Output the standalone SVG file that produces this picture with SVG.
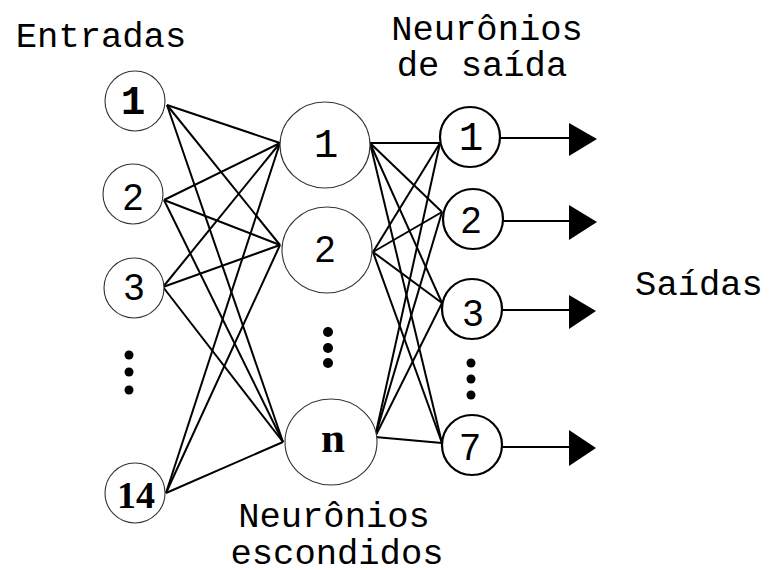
<svg xmlns="http://www.w3.org/2000/svg" width="772" height="570" viewBox="0 0 772 570">
<style>
.lbl{font-family:"Liberation Mono","Courier New",monospace;font-size:35.5px;fill:#000;text-anchor:middle}
.thin{fill:#fff;stroke:#333;stroke-width:1.1}
.thick{fill:#fff;stroke:#000;stroke-width:2.2}
.mono{font-family:"Liberation Mono",monospace;font-size:41px;text-anchor:middle}
.sans{font-family:"Liberation Sans",Arial,sans-serif;font-size:37px;text-anchor:middle}
.serb{font-family:"Liberation Serif",serif;font-weight:bold;font-size:38px;text-anchor:middle}
.conn line{stroke:#000;stroke-width:2}
.dot{fill:#000}
</style>
<rect width="772" height="570" fill="#fff"/>
<text class="lbl" x="101" y="47">Entradas</text>
<text class="lbl" x="487" y="40">Neurônios</text>
<text class="lbl" x="482" y="76">de saída</text>
<text class="lbl" x="699" y="295">Saídas</text>
<text class="lbl" x="334" y="527">Neurônios</text>
<text class="lbl" x="337" y="564">escondidos</text>
<g id="connectors" class="conn">
<line x1="167" y1="105" x2="280" y2="143"/>
<line x1="167" y1="105" x2="280" y2="245"/>
<line x1="167" y1="105" x2="283" y2="442"/>
<line x1="164" y1="200" x2="280" y2="143"/>
<line x1="164" y1="200" x2="280" y2="245"/>
<line x1="164" y1="200" x2="283" y2="442"/>
<line x1="163" y1="287" x2="280" y2="143"/>
<line x1="163" y1="287" x2="280" y2="245"/>
<line x1="163" y1="287" x2="283" y2="442"/>
<line x1="166" y1="493" x2="280" y2="143"/>
<line x1="166" y1="493" x2="280" y2="245"/>
<line x1="166" y1="493" x2="283" y2="442"/>
<line x1="370" y1="143" x2="440" y2="143"/>
<line x1="370" y1="143" x2="442" y2="212"/>
<line x1="370" y1="143" x2="442" y2="303"/>
<line x1="370" y1="143" x2="442" y2="443"/>
<line x1="373" y1="252" x2="440" y2="143"/>
<line x1="373" y1="252" x2="442" y2="212"/>
<line x1="373" y1="252" x2="442" y2="303"/>
<line x1="373" y1="252" x2="442" y2="443"/>
<line x1="375" y1="437" x2="440" y2="143"/>
<line x1="375" y1="437" x2="442" y2="212"/>
<line x1="375" y1="437" x2="442" y2="303"/>
<line x1="375" y1="437" x2="442" y2="443"/>
<line x1="500" y1="138" x2="572" y2="138"/>
<line x1="503" y1="221" x2="572" y2="221"/>
<line x1="502" y1="310" x2="572" y2="310"/>
<line x1="502" y1="447" x2="572" y2="447"/>
<polygon points="569,123 597,139 569,156" fill="#000"/>
<polygon points="569,205 597,222 569,240" fill="#000"/>
<polygon points="569,295 596,311 569,329" fill="#000"/>
<polygon points="569,430 596,448 569,466" fill="#000"/>
</g>
<g id="in1"><circle class="thin" cx="135" cy="101" r="30"/><text class="mono" x="133" y="114" font-weight="bold">1</text></g>
<g id="in2"><circle class="thin" cx="133" cy="194" r="30"/><text class="sans" x="133" y="210">2</text></g>
<g id="in3"><circle class="thin" cx="134" cy="288" r="30"/><text class="sans" x="134" y="300">3</text></g>
<g id="in-dots"><circle class="dot" cx="129" cy="355" r="4.5"/><circle class="dot" cx="129" cy="372" r="4.5"/><circle class="dot" cx="129" cy="390" r="4.5"/></g>
<g id="in14"><circle class="thin" cx="135" cy="493" r="30"/><text class="serb" x="136" y="508">14</text></g>
<g id="h1"><ellipse class="thin" cx="325" cy="145" rx="45" ry="43"/><text class="mono" x="326" y="157">1</text></g>
<g id="h2"><ellipse class="thin" cx="327" cy="250" rx="45" ry="43"/><text class="sans" x="325" y="262">2</text></g>
<g id="h-dots"><circle class="dot" cx="328" cy="332" r="5"/><circle class="dot" cx="328" cy="348" r="5"/><circle class="dot" cx="328" cy="363" r="5"/></g>
<g id="hn"><ellipse class="thin" cx="331" cy="442" rx="46" ry="43"/><text class="serb" x="333" y="452" style="font-size:43px">n</text></g>
<g id="o1"><circle class="thick" cx="470" cy="137" r="30"/><text class="mono" x="471" y="150">1</text></g>
<g id="o2"><circle class="thick" cx="473" cy="219" r="30"/><text class="sans" x="471" y="233">2</text></g>
<g id="o3"><circle class="thick" cx="472" cy="309" r="30"/><text class="sans" x="473" y="326">3</text></g>
<g id="o-dots"><circle class="dot" cx="471" cy="363" r="4.5"/><circle class="dot" cx="471" cy="379" r="4.5"/><circle class="dot" cx="471" cy="395" r="4.5"/></g>
<g id="o7"><circle class="thick" cx="472" cy="445" r="30"/><text class="sans" x="470" y="460">7</text></g>
</svg>
